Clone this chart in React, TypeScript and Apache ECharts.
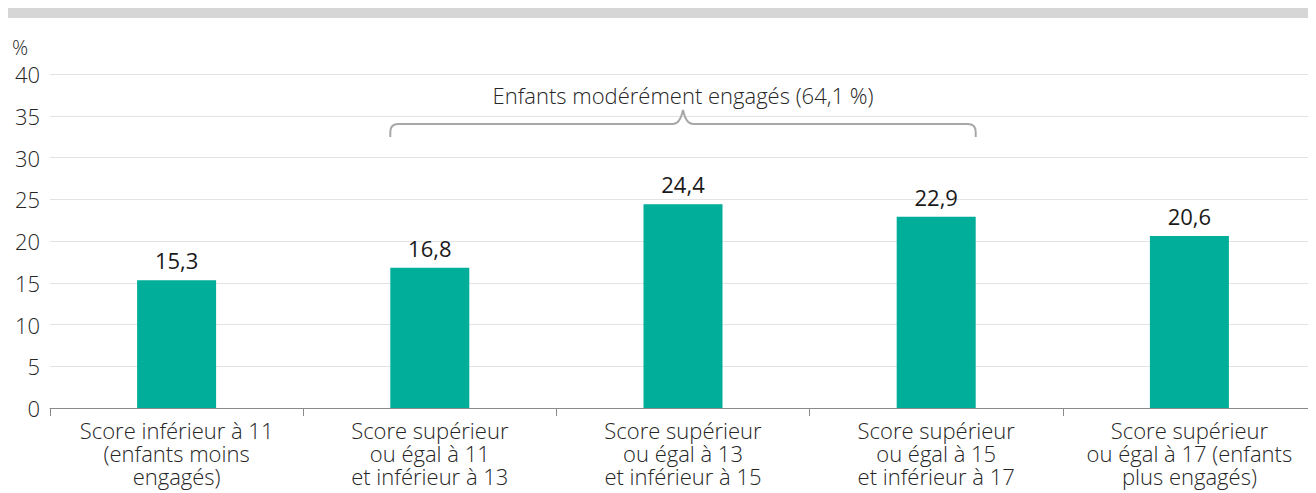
import React, { useEffect, useRef } from "react";
import * as echarts from "echarts";

const categories = [
  "Score inférieur à 11\n(enfants moins\nengagés)",
  "Score supérieur\nou égal à 11\net inférieur à 13",
  "Score supérieur\nou égal à 13\net inférieur à 15",
  "Score supérieur\nou égal à 15\net inférieur à 17",
  "Score supérieur\nou égal à 17 (enfants\nplus engagés)",
];
const values = [15.3, 16.8, 24.4, 22.9, 20.6];
const braceLabel = "Enfants modérément engagés (64,1 %)";
const braceFrom = 1;
const braceTo = 3;

const FONT = "'Open Sans', 'Noto Sans', sans-serif";
const TEAL = "#00ae9a";
const TXT = "#262626";

export default function App() {
  const ref = useRef<HTMLDivElement>(null);
  useEffect(() => {
    if (!ref.current) return;
    const chart = echarts.init(ref.current, null, { renderer: "svg" });
    const barWidth = 79;
    chart.setOption({
      animation: false,
      textStyle: { fontFamily: FONT },
      grid: { left: 42, right: 0, top: 66, bottom: 85, containLabel: false },
      xAxis: {
        type: "category",
        data: categories,
        axisLine: { lineStyle: { color: "#8a8a8a", width: 1 } },
        axisTick: { show: true, length: 8, lineStyle: { color: "#8a8a8a" } },
        axisLabel: {
          color: TXT,
          fontSize: 22,
          fontWeight: 300,
          lineHeight: 23,
          margin: 10,
          fontFamily: FONT,
          interval: 0,
        },
      },
      yAxis: {
        type: "value",
        min: 0,
        max: 40,
        interval: 5,
        axisLine: { show: false },
        axisTick: { show: false },
        splitLine: { lineStyle: { color: "#e3e3e3", width: 1 } },
        axisLabel: { color: TXT, fontSize: 22, fontWeight: 300, margin: 10, fontFamily: FONT },
      },
      series: [
        {
          type: "bar",
          data: values,
          barWidth,
          itemStyle: { color: TEAL },
          label: {
            show: true,
            position: "top",
            distance: 9,
            color: "#1a1a1a",
            fontSize: 22,
            fontWeight: 400,
            fontFamily: FONT,
            formatter: (p: any) => String(p.value).replace(".", ","),
          },
        },
      ],
    });

    const x1 = (chart.convertToPixel({ xAxisIndex: 0 }, braceFrom) as number) - barWidth / 2;
    const x2 = (chart.convertToPixel({ xAxisIndex: 0 }, braceTo) as number) + barWidth / 2;
    const mid = (x1 + x2) / 2;
    const yEnd = 129;
    const yH = 116;
    const yTip = 102;
    const r = 8;
    const d =
      `M${x1},${yEnd} L${x1},${yH + r} Q${x1},${yH} ${x1 + r},${yH} ` +
      `L${mid - 10},${yH} Q${mid - 3},${yH} ${mid},${yTip} ` +
      `Q${mid + 3},${yH} ${mid + 10},${yH} L${x2 - r},${yH} ` +
      `Q${x2},${yH} ${x2},${yH + r} L${x2},${yEnd}`;
    echarts.graphic.registerShape("brace", echarts.graphic.extendPath(d, {}) as any);

    chart.setOption({
      graphic: [
        {
          type: "rect",
          left: 0,
          top: 0,
          shape: { x: 0, y: 0, width: 1308, height: 10 },
          style: { fill: "#d6d6d6" },
          silent: true,
        },
        {
          type: "text",
          x: 4,
          y: 39,
          style: {
            text: "%",
            fill: TXT,
            font: `300 20px ${FONT}`,
            verticalAlign: "middle",
          },
        },
        {
          type: "brace",
          x: 0,
          y: 0,
          style: { fill: "none", stroke: "#a8a8a8", lineWidth: 2 },
        },
        {
          type: "text",
          x: mid,
          y: 87,
          style: {
            text: braceLabel,
            fill: TXT,
            font: `300 22px ${FONT}`,
            align: "center",
            verticalAlign: "middle",
          },
        },
      ],
    });
    return () => chart.dispose();
  }, []);
  return <div ref={ref} style={{ width: 1308, height: 485 }} />;
}
